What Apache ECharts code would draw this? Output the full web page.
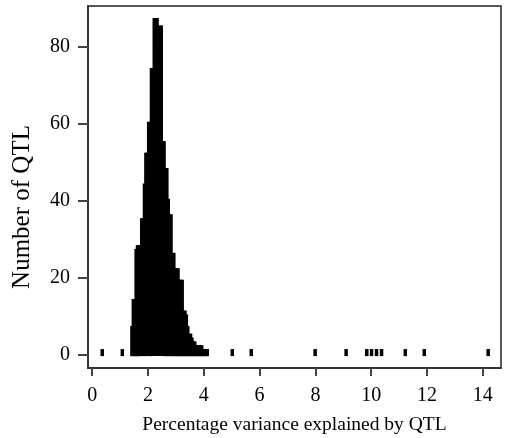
<!DOCTYPE html>
<html><head><meta charset="utf-8">
<script src="https://cdn.jsdelivr.net/npm/echarts@6/dist/echarts.min.js"></script>
<style>html,body{margin:0;padding:0;background:#fff}#c{width:507px;height:438px}</style>
</head><body><div id="c"></div>
<script>
// Histogram of percentage variance explained by QTL
const binStart = 1.425;   // centre of first bin in the main mass
const binWidth = 0.05;
const mainCounts = [7,14,14,27,28,28,24,35,35,44,52,52,60,60,74,74,87,87,87,79,85,85,55,55,48,48,40,36,36,24,26,22,22,22,19,19,19,11,11,10,7,5,5,4,3,3,2,2,2,2,2,1,1,1,1];
const outlierValues = [0.36,1.08,5.02,5.70,7.99,9.10,9.84,10.01,10.19,10.37,11.22,11.90,14.19];
const outlierCounts = [1,1,1,1,1,1,1,1,1,1,1,1,1];
const xTicks = [0,2,4,6,8,10,12,14];
const yTicks = [0,20,40,60,80];
const xTitle = 'Percentage variance explained by QTL';
const yTitle = 'Number of QTL';

const data = [];
mainCounts.forEach((c,i)=>data.push([+(binStart + i*binWidth).toFixed(3), c]));
outlierValues.forEach((v,i)=>data.push([v, outlierCounts[i]]));

const font = 'Liberation Serif';
const LINE_W = 3.5, CAP = 1.6; // histogram drawn as thick vertical lines with square caps

function renderItem(params, api){
  const x = api.value(0), y = api.value(1);
  const top = api.coord([x, y]);
  const base = api.coord([x, 0]);
  return {type:'rect',
    shape:{x: top[0]-LINE_W/2, y: top[1]-CAP, width: LINE_W, height: base[1]-top[1]+2*CAP},
    style:{fill:'#000'}};
}

const chart = echarts.init(document.getElementById('c'), null, {renderer:'canvas'});
chart.setOption({
  animation:false,
  backgroundColor:'#fff',
  grid:{left:88,right:6,top:6,bottom:70,outerBoundsMode:'none',containLabel:false,show:true,borderColor:'#222',borderWidth:1.5,backgroundColor:'transparent'},
  xAxis:{type:'value',min:-0.15,max:14.65,
    name:xTitle,nameLocation:'middle',nameGap:47,
    nameTextStyle:{fontFamily:font,fontSize:19.5,color:'#000'},
    axisLine:{show:true,onZero:false,lineStyle:{color:'#333',width:2}},
    axisTick:{show:true,length:8,lineStyle:{color:'#444',width:2},customValues:xTicks},
    axisLabel:{fontFamily:font,fontSize:20,color:'#000',margin:18,customValues:xTicks},
    splitLine:{show:false}},
  yAxis:{type:'value',min:-3.5,max:90.5,
    name:yTitle,nameLocation:'middle',nameGap:53,
    nameTextStyle:{fontFamily:font,fontSize:25,color:'#000',padding:[0,40,0,0]},
    axisLine:{show:true,onZero:false,lineStyle:{color:'#333',width:2}},
    axisTick:{show:true,length:10,lineStyle:{color:'#444',width:2},customValues:yTicks},
    axisLabel:{fontFamily:font,fontSize:20,color:'#000',margin:18,customValues:yTicks},
    splitLine:{show:false}},
  series:[{type:'custom',data:data,renderItem:renderItem,encode:{x:0,y:1},clip:true}]
});
</script></body></html>
